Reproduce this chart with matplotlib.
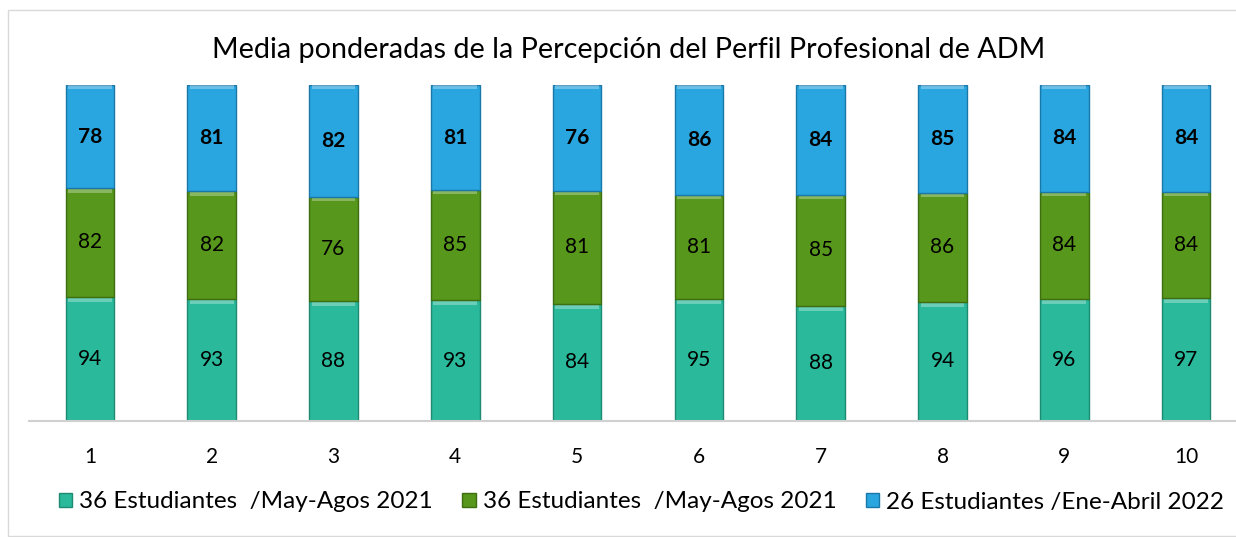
import numpy as np
import matplotlib.pyplot as plt
from matplotlib.patches import Rectangle

# data
categories = ['1', '2', '3', '4', '5', '6', '7', '8', '9', '10']
serie1 = [94, 93, 88, 93, 84, 95, 88, 94, 96, 97]
serie2 = [82, 82, 76, 85, 81, 81, 85, 86, 84, 84]
serie3 = [78, 81, 82, 81, 76, 86, 84, 85, 84, 84]
labels = ['36 Estudiantes  /May-Agos 2021', '36 Estudiantes  /May-Agos 2021', '26 Estudiantes /Ene-Abril 2022']
colores = ['#2ab99b', '#57971c', '#29a6df']
bordes = ['#1f8a72', '#3d6e10', '#1a78a8']

plt.rcParams['font.family'] = ['Lato', 'DejaVu Sans']

s1 = np.array(serie1, float)
s2 = np.array(serie2, float)
s3 = np.array(serie3, float)
total = s1 + s2 + s3
p1 = s1 / total * 100
p2 = s2 / total * 100
p3 = s3 / total * 100

fig = plt.figure(figsize=(12.36, 5.37), dpi=100)
ax = fig.add_axes([29 / 1236, 1 - 421 / 537, 1218 / 1236, 336 / 537])

x = np.arange(len(categories))
w = 0.4
bottoms = [np.zeros(len(x)), p1, p1 + p2]
for pv, vals, b, c, e, lab, bold in zip([p1, p2, p3], [serie1, serie2, serie3], bottoms, colores, bordes, labels, [False, False, True]):
    bars = ax.bar(x, pv, w, bottom=b, color=c, edgecolor=e, linewidth=1, label=lab)
    # lighter bevel strip on top of each segment
    ax.bar(x, pv * 0.04, w * 0.9, bottom=b + pv * 0.96, color='white', alpha=0.3, linewidth=0)
    for xi, bi, hi, v in zip(x, b, pv, vals):
        ax.text(xi, bi + hi / 2, str(v), ha='center', va='center', fontsize=15,
                fontweight='bold' if bold else 'normal', color='black')

ax.set_xlim(-0.5, len(x) - 0.5)
ax.set_ylim(0, 100)
ax.set_xticks(x)
ax.set_xticklabels(categories, fontsize=15)
ax.tick_params(axis='x', length=0, pad=19)
ax.set_yticks([])
for s in ['top', 'right', 'left']:
    ax.spines[s].set_visible(False)
ax.spines['bottom'].set_color('#d0d0d0')
ax.spines['bottom'].set_linewidth(1.5)

fig.text(0.509, 1 - 50 / 537, 'Media ponderadas de la Percepción del Perfil Profesional de ADM',
         ha='center', va='center', fontsize=20.7)

fig.legend(loc='center', bbox_to_anchor=(0.519, 1 - 502 / 537), ncol=3, frameon=False,
           fontsize=17.5, handlelength=0.55, handleheight=0.55, handletextpad=0.3, columnspacing=1.2)

fig.patches.append(Rectangle((8 / 1236, 0.002), 1.2, 1 - 10 / 537 - 0.002, transform=fig.transFigure,
                             fill=False, edgecolor='#d9d9d9', linewidth=1))

fig.savefig('out.png', dpi=100)
